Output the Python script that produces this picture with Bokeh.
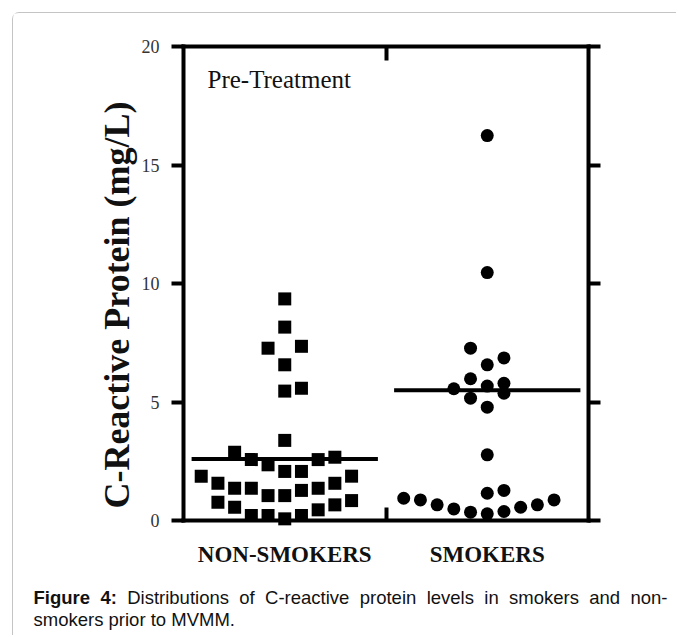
import math
from bokeh.plotting import figure
from bokeh.models import LinearAxis, FixedTicker, Range1d, Label, ColumnDataSource
from bokeh.embed import file_html
from bokeh.resources import INLINE

# ---------------- data ----------------
groups = ["NON-SMOKERS", "SMOKERS"]
group_pos = [0.5, 1.5]

ns_values = [9.35, 8.16, 7.27, 7.35, 6.57, 5.46, 5.58, 3.38, 2.88, 2.57, 2.35, 2.57,
             2.67, 2.07, 2.07, 1.87, 1.87, 1.57, 1.36, 1.36, 1.05, 1.05, 1.27, 1.36,
             1.57, 0.77, 0.56, 0.66, 0.84, 0.45, 0.21, 0.21, 0.07, 0.21]
ns_slot = [0, 0, -1, 1, 0, 0, 1, 0, -3, -2, -1, 2,
           3, 0, 1, -5, 4, -4, -3, -2, -1, 0, 1, 2,
           3, -4, -3, 3, 4, 2, -2, -1, 0, 1]

sm_values = [16.24, 10.46, 7.27, 6.86, 6.57, 5.98, 5.79, 5.67, 5.56, 5.37, 5.16, 4.78,
             2.77, 1.15, 1.27, 0.94, 0.87, 0.66, 0.49, 0.35, 0.28, 0.38, 0.56, 0.66, 0.87]
sm_slot = [0, 0, -1, 1, 0, -1, 1, 0, -2, 1, -1, 0,
           0, 0, 1, -5, -4, -3, -2, -1, 0, 1, 2, 3, 4]

medians = [2.6, 5.5]
y_ticks = [0, 5, 10, 15, 20]
panel_text = "Pre-Treatment"
y_title = "C-Reactive Protein (mg/L)"
caption_line1 = [("Figure", True), ("4:", True), ("Distributions", False), ("of", False),
                 ("C-reactive", False), ("protein", False), ("levels", False), ("in", False),
                 ("smokers", False), ("and", False), ("non-", False)]
caption_line2 = "smokers prior to MVMM."

# ---------------- layout constants (page pixels) ----------------
W, H = 664, 623
ORG = 13                     # canvas origin on page (12px margin + 1px border)
PX_L, PX_R = 183, 588        # page x of x=0 and x=2
PY_B, PY_T = 520, 46         # page y of y=0 and y=20
XMIN, XMAX, YMIN, YMAX = 0.0, 2.0, 0.0, 20.0
SLOT = 0.0825
HALF = 0.46


def dx(page_x):
    return XMIN + (page_x - PX_L) / (PX_R - PX_L) * (XMAX - XMIN)


def dy(page_y):
    return YMIN + (PY_B - page_y) / (PY_B - PY_T) * (YMAX - YMIN)


p = figure(width=W, height=H, output_backend="svg", toolbar_location=None,
           x_range=Range1d(dx(ORG), dx(ORG + W)), y_range=Range1d(dy(ORG + H), dy(ORG)),
           x_axis_location=None, y_axis_location=None,
           min_border_left=0, min_border_right=0, min_border_top=0, min_border_bottom=0)
p.grid.visible = False
p.outline_line_color = None
p.background_fill_color = "white"
p.border_fill_color = "white"
p.styles = {"margin-left": "12px", "margin-top": "12px",
            "border-top": "1px solid #c4c4c4", "border-left": "1px solid #c4c4c4",
            "border-top-left-radius": "7px"}

SERIF = "Liberation Serif"
SANS = "Liberation Sans"

# left axis
ax_l = LinearAxis(ticker=FixedTicker(ticks=y_ticks, minor_ticks=[]),
                  fixed_location=XMIN, bounds=(YMIN, YMAX))
ax_l.axis_line_width = 4
ax_l.axis_line_cap = "square"
ax_l.major_tick_line_width = 4
ax_l.major_tick_out = 12
ax_l.major_tick_in = 0
ax_l.minor_tick_line_color = None
ax_l.major_label_text_font = SERIF
ax_l.major_label_text_font_size = "18px"
ax_l.major_label_text_color = "#333333"
ax_l.major_label_standoff = 12
p.add_layout(ax_l, "left")

# right axis (ticks only)
ax_r = LinearAxis(ticker=FixedTicker(ticks=[], minor_ticks=y_ticks),
                  fixed_location=XMAX, bounds=(YMIN, YMAX))
ax_r.axis_line_width = 4
ax_r.axis_line_cap = "square"
ax_r.minor_tick_line_width = 4
ax_r.minor_tick_out = 12
ax_r.minor_tick_in = 0
ax_r.major_tick_line_color = None
p.add_layout(ax_r, "right")

# bottom axis: category labels + middle divider tick
ax_b = LinearAxis(ticker=FixedTicker(ticks=group_pos, minor_ticks=[1.0]),
                  fixed_location=YMIN, bounds=(XMIN, XMAX))
ax_b.axis_line_width = 4
ax_b.axis_line_cap = "square"
ax_b.major_tick_line_color = None
ax_b.major_tick_in = 0
ax_b.major_tick_out = 0
ax_b.minor_tick_line_width = 4
ax_b.minor_tick_in = 13
ax_b.minor_tick_out = 0
ax_b.major_label_overrides = {pos: name for pos, name in zip(group_pos, groups)}
ax_b.major_label_text_font = SERIF
ax_b.major_label_text_font_style = "bold"
ax_b.major_label_text_font_size = "23px"
ax_b.major_label_text_color = "#111111"
ax_b.major_label_standoff = 21
p.add_layout(ax_b, "below")

# top axis: divider tick only
ax_t = LinearAxis(ticker=FixedTicker(ticks=[], minor_ticks=[1.0]),
                  fixed_location=YMAX, bounds=(XMIN, XMAX))
ax_t.axis_line_width = 4
ax_t.axis_line_cap = "square"
ax_t.major_tick_line_color = None
ax_t.minor_tick_line_width = 4
ax_t.minor_tick_in = 14
ax_t.minor_tick_out = 0
p.add_layout(ax_t, "above")

# data points
ns_src = ColumnDataSource(dict(x=[group_pos[0] + s * SLOT for s in ns_slot], y=ns_values))
sm_src = ColumnDataSource(dict(x=[group_pos[1] + s * SLOT for s in sm_slot], y=sm_values))
p.scatter("x", "y", source=ns_src, marker="square", size=13, fill_color="black", line_color=None)
p.scatter("x", "y", source=sm_src, marker="circle", size=13, fill_color="black", line_color=None)

# medians
p.segment(x0=[g - HALF for g in group_pos], x1=[g + HALF for g in group_pos],
          y0=medians, y1=medians, line_color="black", line_width=4)

# panel text
p.add_layout(Label(x=dx(207), y=dy(79), text=panel_text, text_font=SERIF,
                   text_font_size="25px", text_baseline="middle", text_color="#111111"))

# y title
p.add_layout(Label(x=dx(116), y=dy(304.5), text=y_title, text_font=SERIF,
                   text_font_style="bold", text_font_size="36px", angle=math.pi / 2,
                   text_align="center", text_baseline="middle", text_color="#111111"))

# caption (justified first line)
AR = {' ': 278, '-': 333, ':': 278, '.': 278, '4': 556, 'C': 722, 'D': 722, 'F': 611,
      'M': 833, 'V': 667, 'a': 556, 'b': 556, 'c': 500, 'd': 556, 'e': 556, 'f': 278,
      'g': 556, 'i': 222, 'k': 500, 'l': 222, 'm': 833, 'n': 556, 'o': 556, 'p': 556,
      'r': 333, 's': 500, 't': 278, 'u': 556, 'v': 500}
ARB = {' ': 278, ':': 333, '4': 556, 'F': 611, 'i': 278, 'g': 611, 'u': 611, 'r': 389, 'e': 556}
CAP_SIZE = 18.5


def tw(s, bold):
    t = ARB if bold else AR
    return sum(t[c] for c in s) * CAP_SIZE / 1000.0


cap_left, cap_right = 33, 667
base1, base2 = 597, 619
total = sum(tw(w, b) for w, b in caption_line1)
gap = (cap_right - cap_left - total) / (len(caption_line1) - 1)
xpos = cap_left
for w, b in caption_line1:
    p.add_layout(Label(x=dx(xpos), y=dy(base1), text=w, text_font=SANS,
                       text_font_size=f"{CAP_SIZE}px", text_font_style="bold" if b else "normal",
                       text_baseline="alphabetic", text_color="#111111"))
    xpos += tw(w, b) + gap
p.add_layout(Label(x=dx(cap_left), y=dy(base2), text=caption_line2, text_font=SANS,
                   text_font_size=f"{CAP_SIZE}px", text_baseline="alphabetic",
                   text_color="#111111"))

open("out.html", "w").write(file_html(p, INLINE))
